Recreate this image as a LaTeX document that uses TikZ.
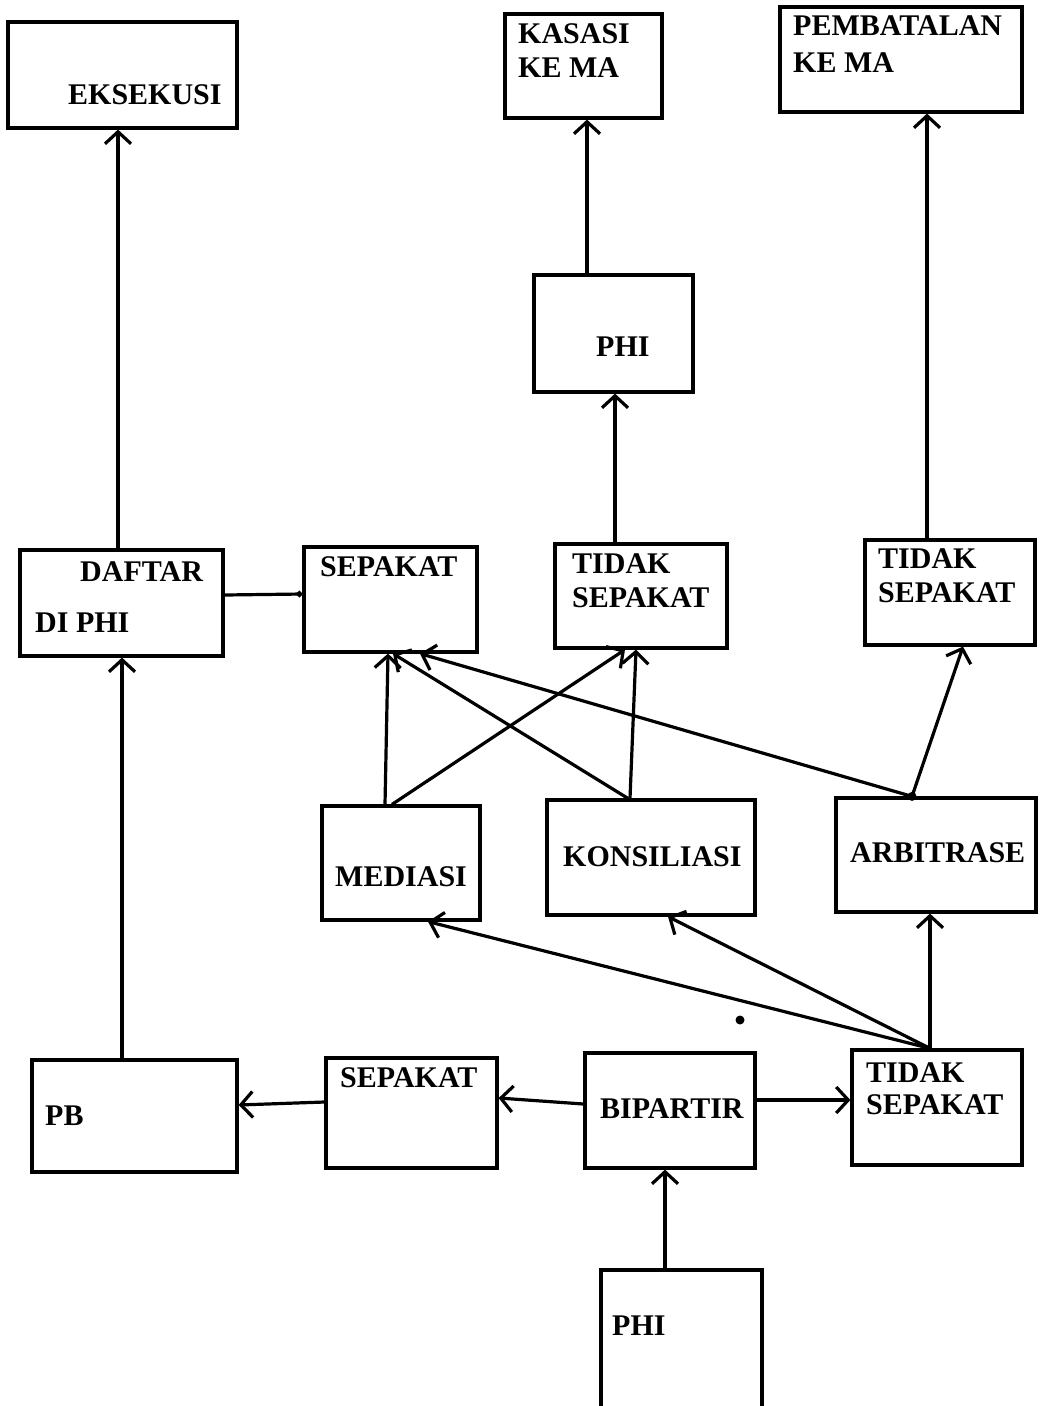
\documentclass[tikz,border=0pt]{standalone}
\usepackage{fontspec}
\setmainfont{Liberation Serif}
\usetikzlibrary{arrows.meta}
\begin{document}
\begin{tikzpicture}[x=1pt,y=-1pt,
 box/.style={draw,line width=3.2pt,rectangle,inner sep=0pt},
 lbl/.style={anchor=base west,inner sep=0pt,font=\fontsize{30}{35}\selectfont\bfseries},
 arr/.style={line width=3.2pt,-{Straight Barb[length=12pt,width=26pt,line width=3.2pt]}},
 ln/.style={line width=3.2pt},
 dotmark/.style={circle,fill,inner sep=0pt,minimum size=9pt}]
\useasboundingbox[fill=white] (0,0) rectangle (1040,1406);

% boxes
\node[box,minimum width=229pt,minimum height=106pt] (eks) at (122.5,75) {};
\node[box,minimum width=157pt,minimum height=104pt] (kas) at (583.5,66) {};
\node[box,minimum width=242pt,minimum height=105pt] (pem) at (901,59.5) {};
\node[box,minimum width=159pt,minimum height=117pt] (phiU) at (613.5,333.5) {};
\node[box,minimum width=203pt,minimum height=106pt] (daftar) at (121.5,603) {};
\node[box,minimum width=173pt,minimum height=105pt] (sepU) at (390.5,599.5) {};
\node[box,minimum width=172pt,minimum height=104pt] (tsM) at (641,596) {};
\node[box,minimum width=170pt,minimum height=105pt] (tsR) at (950,592.5) {};
\node[box,minimum width=158pt,minimum height=114pt] (med) at (401,863) {};
\node[box,minimum width=208pt,minimum height=115pt] (kon) at (651,857.5) {};
\node[box,minimum width=200pt,minimum height=114pt] (arb) at (936,855) {};
\node[box,minimum width=205pt,minimum height=112pt] (pb) at (134.5,1116) {};
\node[box,minimum width=171pt,minimum height=110pt] (sepL) at (411.5,1113) {};
\node[box,minimum width=170pt,minimum height=115pt] (bip) at (670,1110.5) {};
\node[box,minimum width=170pt,minimum height=115pt] (tsL) at (937,1107.5) {};
\node[box,minimum width=161pt,minimum height=160pt] (phiB) at (681.5,1350) {};

% labels
\node[lbl] (t1) at (68,104) {EKSEKUSI};
\node[lbl] (t2) at (518,43) {KASASI};
\node[lbl] (t3) at (518,77) {KE MA};
\node[lbl] (t4) at (793,35) {PEMBATALAN};
\node[lbl] (t5) at (793,72) {KE MA};
\node[lbl] (t6) at (596,356) {PHI};
\node[lbl] (t7) at (80,581) {DAFTAR};
\node[lbl] (t8) at (35,632) {DI PHI};
\node[lbl] (t9) at (320,576) {SEPAKAT};
\node[lbl] (t10) at (572,573) {TIDAK};
\node[lbl] (t11) at (572,607) {SEPAKAT};
\node[lbl] (t12) at (878,568) {TIDAK};
\node[lbl] (t13) at (878,602) {SEPAKAT};
\node[lbl] (t14) at (335,886) {MEDIASI};
\node[lbl] (t15) at (563,866) {KONSILIASI};
\node[lbl] (t16) at (850,862) {ARBITRASE};
\node[lbl] (t17) at (45,1125) {PB};
\node[lbl] (t18) at (340,1087) {SEPAKAT};
\node[lbl] (t19) at (600,1118) {BIPARTIR};
\node[lbl] (t20) at (866,1082) {TIDAK};
\node[lbl] (t21) at (866,1114) {SEPAKAT};
\node[lbl] (t22) at (612,1335) {PHI};

% connectors
\draw[arr] ([xshift=-3.5pt]daftar.north) -- ([xshift=-4.5pt]eks.south);
\draw[arr] ([xshift=-26.5pt]phiU.north) -- ([xshift=3.5pt]kas.south);
\draw[arr] ([xshift=-23pt]tsR.north) -- ([xshift=26pt]pem.south);
\draw[arr] ([xshift=-26pt]tsM.north) -- ([xshift=1.5pt]phiU.south);
\draw[ln,-{Circle[length=6pt]}] ([yshift=8pt]daftar.east) -- ([yshift=5.5pt]sepU.west);
\draw[arr] ([xshift=-12.5pt]pb.north) -- ([xshift=0.5pt]daftar.south);
\draw[arr] ([xshift=-16pt]med.north) -- ([xshift=-2.5pt]sepU.south);
\draw[arr] ([xshift=-9pt]med.north) -- ([xshift=-16pt]tsM.south);
\draw[arr] ([xshift=-23pt]kon.north) -- ([xshift=2.5pt]sepU.south);
\draw[arr] ([xshift=-21pt]kon.north) -- ([xshift=-5pt]tsM.south);
\node[dotmark] (ad) at ([xshift=-24pt]arb.north) {};
\draw[arr] (ad.center) -- ([xshift=29.5pt]sepU.south);
\draw[arr] (ad.center) -- ([xshift=13pt]tsR.south);
\draw[arr] ([xshift=-7pt]tsL.north) -- ([xshift=-6pt]arb.south);
\draw[arr] ([xshift=-7pt]tsL.north) -- ([xshift=17pt]kon.south);
\draw[arr] ([xshift=-7pt]tsL.north) -- ([xshift=27pt]med.south);
\draw[arr] ([yshift=6.5pt]bip.west) -- ([yshift=15pt]sepL.east);
\draw[arr] ([yshift=11pt]sepL.west) -- ([yshift=11pt]pb.east);
\draw[arr] ([yshift=10.5pt]bip.east) -- ([yshift=7.5pt]tsL.west);
\draw[arr] ([xshift=-16.5pt]phiB.north) -- ([xshift=-5pt]bip.south);

% stray dot
\node[dotmark] (sd) at (740,1020) {};
\end{tikzpicture}
\end{document}
